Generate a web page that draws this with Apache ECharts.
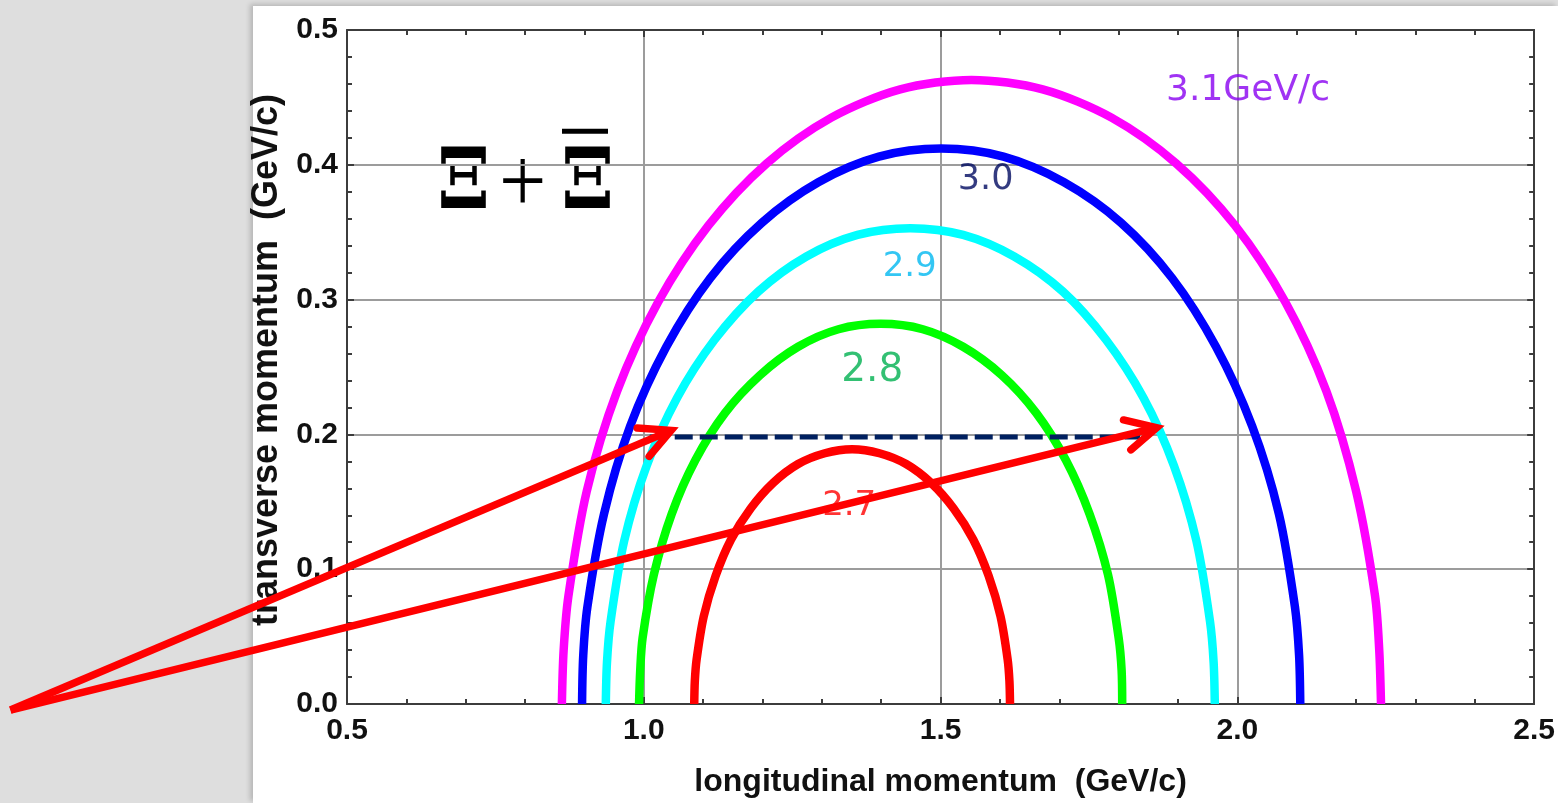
<!DOCTYPE html>
<html>
<head>
<meta charset="utf-8">
<script src="https://cdn.jsdelivr.net/npm/echarts@6/dist/echarts.min.js"></script>
<style>
  html, body { margin: 0; padding: 0; width: 1558px; height: 803px; background: #dedede; overflow: hidden; }
  #panel { position: absolute; left: 253px; top: 6px; right: 0; bottom: 0; background: #fff; box-shadow: -3px -2px 5px rgba(0,0,0,0.18); }
  #chart { position: absolute; left: 0; top: 0; width: 1558px; height: 803px; }
</style>
</head>
<body>
<div id="panel"></div>
<div id="chart"></div>
<script>
// Kinematic limits of the decay products: transverse vs longitudinal momentum (GeV/c)
// for several beam momenta.
const curve31 = [[0.862,0],[0.865,0.040],[0.873,0.080],[0.904,0.158],[0.955,0.232],[1.024,0.298],[1.109,0.355],[1.207,0.401],[1.316,0.435],[1.432,0.456],[1.552,0.463],[1.672,0.456],[1.788,0.435],[1.897,0.401],[1.996,0.355],[2.081,0.298],[2.150,0.232],[2.200,0.158],[2.232,0.080],[2.239,0.040],[2.242,0]];
const curve30 = [[0.896,0],[0.898,0.036],[0.905,0.072],[0.933,0.141],[0.977,0.206],[1.038,0.265],[1.112,0.316],[1.199,0.357],[1.294,0.387],[1.396,0.406],[1.501,0.412],[1.606,0.406],[1.708,0.387],[1.804,0.357],[1.890,0.316],[1.964,0.265],[2.025,0.206],[2.070,0.141],[2.097,0.072],[2.104,0.036],[2.106,0]];
const curve29 = [[0.936,0],[0.938,0.031],[0.944,0.061],[0.967,0.121],[1.005,0.177],[1.056,0.227],[1.119,0.270],[1.193,0.306],[1.274,0.332],[1.360,0.348],[1.449,0.353],[1.538,0.348],[1.624,0.332],[1.706,0.306],[1.779,0.270],[1.842,0.227],[1.893,0.177],[1.931,0.121],[1.954,0.061],[1.960,0.031],[1.962,0]];
const curve28 = [[0.992,0],[0.994,0.025],[0.998,0.049],[1.017,0.096],[1.047,0.141],[1.087,0.181],[1.137,0.216],[1.196,0.244],[1.260,0.265],[1.328,0.278],[1.399,0.282],[1.470,0.278],[1.538,0.265],[1.603,0.244],[1.661,0.216],[1.711,0.181],[1.751,0.141],[1.782,0.096],[1.800,0.049],[1.805,0.025],[1.806,0]];
const curve27 = [[1.085,0],[1.086,0.017],[1.089,0.033],[1.101,0.065],[1.121,0.095],[1.147,0.122],[1.180,0.145],[1.218,0.164],[1.260,0.178],[1.305,0.186],[1.351,0.189],[1.397,0.186],[1.442,0.178],[1.484,0.164],[1.522,0.145],[1.555,0.122],[1.581,0.095],[1.601,0.065],[1.613,0.033],[1.616,0.017],[1.617,0]];

// Curve labels and where they sit (data coordinates)
const curveLabelText = ['3.1GeV/c', '3.0', '2.9', '2.8', '2.7'];
const curveLabelAt = [[2.018, 0.455], [1.576, 0.3885], [1.448, 0.324], [1.385, 0.247], [1.346, 0.147]];

// Constant transverse momentum cut
const cutLine = [[1.010, 0.198], [1.836, 0.198]];

// Pointer arrows: common tail, two tips
const arrowTail = [-0.067, -0.0045];
const arrowTips = [[1.046, 0.203], [1.864, 0.205]];

// Axis ticks
const xTicks = [0.5, 1.0, 1.5, 2.0, 2.5];
const yTicks = [0.0, 0.1, 0.2, 0.3, 0.4, 0.5];

const curveColors = ['#ff00ff', '#0000ff', '#00ffff', '#00ff00', '#ff0000'];
const labelColors = ['#8800f0', '#000a60', '#00b8f0', '#00b050', '#ff0000'];
const labelSizes = [36, 35, 34, 39, 34];

const chart = echarts.init(document.getElementById('chart'), null, { renderer: 'canvas' });

const frameColor = '#3c3c3c';
const tickFont = { fontFamily: '"Liberation Sans", Arial, sans-serif', fontWeight: 'bold', fontSize: 30, color: '#111' };

function baseAxis(ticks, extra) {
  return Object.assign({
    type: 'value',
    min: ticks[0],
    max: ticks[ticks.length - 1],
    interval: ticks[1] - ticks[0],
    axisLine: { show: true, onZero: false, lineStyle: { color: frameColor, width: 2 } },
    axisTick: { show: true, inside: true, length: 7, lineStyle: { color: frameColor, width: 2 } },
    minorTick: { show: true, splitNumber: 5, length: 5, lineStyle: { color: frameColor, width: 2 } },
    splitLine: { show: false }
  }, extra);
}

const curves = [curve31, curve30, curve29, curve28, curve27];

const series = curves.map((c, i) => ({
  type: 'line',
  data: c,
  smooth: 0.3,
  showSymbol: false,
  symbol: 'none',
  silent: true,
  z: 3,
  lineStyle: { color: curveColors[i], width: 8.5, cap: 'butt' }
}));

series.push({
  type: 'line',
  data: cutLine,
  showSymbol: false,
  symbol: 'none',
  silent: true,
  z: 4,
  lineStyle: { color: '#002060', width: 5, type: [18, 7] }
});

series.push({
  type: 'scatter',
  silent: true,
  z: 5,
  symbolSize: 1,
  itemStyle: { color: 'rgba(0,0,0,0)' },
  data: curveLabelAt.map((p, i) => ({
    value: p,
    label: {
      show: true,
      position: 'inside',
      formatter: curveLabelText[i],
      color: labelColors[i],
      fontSize: labelSizes[i],
      fontFamily: '"DejaVu Sans", sans-serif'
    }
  }))
});

series.push({
  type: 'custom',
  silent: true,
  clip: false,
  z: 8,
  data: arrowTips.map(t => [arrowTail[0], arrowTail[1], t[0], t[1]]),
  renderItem: function (params, api) {
    const p0 = api.coord([api.value(0), api.value(1)]);
    const p1 = api.coord([api.value(2), api.value(3)]);
    const ang = Math.atan2(p0[1] - p1[1], p0[0] - p1[0]);
    const L = 34, spread = 0.47;
    const a1 = [p1[0] + L * Math.cos(ang - spread), p1[1] + L * Math.sin(ang - spread)];
    const a2 = [p1[0] + L * Math.cos(ang + spread), p1[1] + L * Math.sin(ang + spread)];
    const st = { stroke: '#ff0000', lineWidth: 7.5, fill: null, lineCap: 'round', lineJoin: 'miter' };
    return {
      type: 'group',
      children: [
        { type: 'line', shape: { x1: p0[0], y1: p0[1], x2: p1[0], y2: p1[1] }, style: Object.assign({}, st, { lineCap: 'butt' }) },
        { type: 'polyline', shape: { points: [a1, p1, a2] }, style: st }
      ]
    };
  }
});

const option = {
  animation: false,
  backgroundColor: 'transparent',
  grid: { left: 347, right: 21, top: 30, bottom: 99, containLabel: false },
  xAxis: [
    baseAxis(xTicks, {
      position: 'bottom',
      name: 'longitudinal momentum  (GeV/c)',
      nameLocation: 'middle',
      nameGap: 62,
      nameTextStyle: { fontFamily: '"Liberation Sans", Arial, sans-serif', fontWeight: 'bold', fontSize: 32, color: '#111' },
      axisLabel: Object.assign({ margin: 12, formatter: v => v.toFixed(1) }, tickFont),
      splitLine: { show: true, lineStyle: { color: '#9c9c9c', width: 2 } }
    }),
    baseAxis(xTicks, { position: 'top', axisLabel: { show: false } })
  ],
  yAxis: [
    baseAxis(yTicks, {
      position: 'left',
      name: 'transverse momentum  (GeV/c)',
      nameLocation: 'middle',
      nameGap: 52,
      nameTextStyle: { fontFamily: '"Liberation Sans", Arial, sans-serif', fontWeight: 'bold', fontSize: 36, color: '#111', padding: [0, 0, 0, 14] },
      axisLabel: Object.assign({ margin: 9, formatter: v => v.toFixed(1) }, tickFont),
      splitLine: { show: true, lineStyle: { color: '#9c9c9c', width: 2 } }
    }),
    baseAxis(yTicks, { position: 'right', axisLabel: { show: false } })
  ],
  series: series,
  graphic: [
    {
      type: 'group',
      x: 437,
      y: 186,
      scaleY: 1.1,
      z: 10,
      children: [
        { type: 'text', x: 0, y: 0, style: { text: 'Ξ', fontFamily: '"DejaVu Serif", serif', fontWeight: 'bold', fontSize: 76, fill: '#000', verticalAlign: 'middle', align: 'left' } },
        { type: 'text', x: 62, y: 2, style: { text: '+', fontFamily: '"Liberation Serif", serif', fontWeight: 'normal', fontSize: 84, fill: '#000', verticalAlign: 'middle', align: 'left' } },
        { type: 'text', x: 124, y: 0, style: { text: 'Ξ', fontFamily: '"DejaVu Serif", serif', fontWeight: 'bold', fontSize: 76, fill: '#000', verticalAlign: 'middle', align: 'left' } },
        { type: 'rect', shape: { x: 125, y: -52, width: 46, height: 4.5 }, style: { fill: '#000' } }
      ]
    }
  ]
};

// The mirrored top/right axes carry no series; bind all series to the primary axes.
option.series.forEach(s => { s.xAxisIndex = 0; s.yAxisIndex = 0; });

chart.setOption(option);
</script>
</body>
</html>
